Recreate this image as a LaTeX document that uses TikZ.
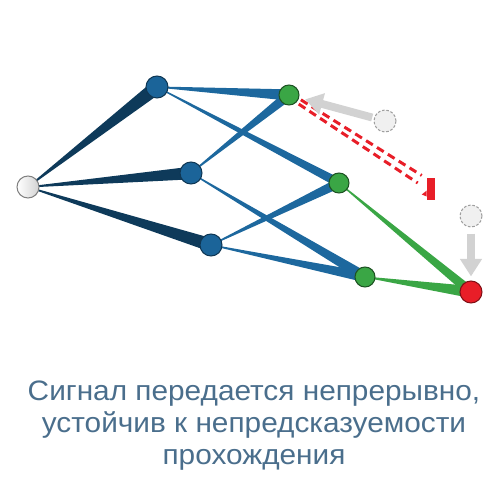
\documentclass[tikz,border=0pt]{standalone}
\usepackage{fontspec}
\setmainfont{Liberation Sans}[FakeStretch=1.06]
\usetikzlibrary{calc,arrows.meta,backgrounds}
\definecolor{navy}{RGB}{14,58,90}
\definecolor{wire}{RGB}{29,104,158}
\definecolor{nodeblue}{RGB}{27,100,153}
\definecolor{leaf}{RGB}{58,166,69}
\definecolor{alarm}{RGB}{232,30,40}
\definecolor{caption}{RGB}{74,110,140}
\begin{document}
\begin{tikzpicture}
[x=0.02cm,y=-0.02cm,
every node/.style={draw,circle,inner sep=0pt,line width=0.6pt},
relay/.style={minimum size=0.44cm,fill=nodeblue,draw=nodeblue!55!black},
sink/.style={minimum size=0.4cm,fill=leaf,draw=leaf!50!black},
ghost/.style={minimum size=0.44cm,fill=gray!12,draw=gray!75,dash pattern=on 1.5pt off 1pt},
ghostarrow/.style={draw=gray!35,line width=4.5pt,-{Triangle[length=10pt,width=12pt]}},
broken/.style={alarm,line width=1.7pt,dash pattern=on 4.5pt off 2.8pt}]
	\useasboundingbox (0,0) rectangle (500,500);
	\node[minimum size=0.44cm,draw=gray,left color=white,right color=gray!35] (src) at (28,187) {};
	\node[relay] (a1) at (157,87) {};
	\node[relay] (a2) at (191,173) {};
	\node[relay] (a3) at (211,245) {};
	\node[sink] (g1) at (289,95) {};
	\node[sink] (g2) at (339,183) {};
	\node[sink] (g3) at (365,277) {};
	\node[minimum size=0.44cm,fill=alarm,draw=alarm!55!black] (rx) at (471,292) {};
	\node[ghost] (gh1) at (385,121) {};
	\node[ghost] (gh2) at (471,216) {};
	\node[rectangle,draw=none,fill=alarm,minimum width=0.15cm,minimum height=0.44cm] (stop) at (431,189) {};
	\fill[alarm] ($(stop.south west)+(0,-10)$) -- ++(-5,4) -- ++(5,2) -- cycle;
	\begin{scope}[on background layer]
		\foreach \s/\t/\w/\c in {src/a1/4pt/navy,src/a2/3.6pt/navy,src/a3/3.8pt/navy,
			a1/g1/3.2pt/wire,a1/g2/2.6pt/wire,a2/g1/2.8pt/wire,a2/g3/3pt/wire,
			a3/g2/2.8pt/wire,a3/g3/3pt/wire,g2/rx/2.8pt/leaf,g3/rx/3.4pt/leaf}
			\fill[\c] ($(\s)!0.3pt!90:(\t)$) -- ($(\t)!\w!-90:(\s)$) -- ($(\t)!\w!90:(\s)$) -- ($(\s)!0.3pt!-90:(\t)$) -- cycle;
		\draw[broken] ($(g1)+(1,-2)$) -- ($(stop.north west)+(-5,-2)$);
		\draw[broken] ($(g1)+(-1,2)$) -- ($(stop.west)+(-9,-6)$);
	\end{scope}
	\draw[ghostarrow,shorten <=1pt,shorten >=3.5pt] (gh1) -- (g1);
	\draw[ghostarrow,shorten <=3.4pt,shorten >=2.3pt] (gh2) -- (rx);
	\node[draw=none,rectangle,align=center,text=caption,font=\fontsize{16}{18.2}\selectfont] (label) at (254,426) {Сигнал передается непрерывно,\\устойчив к непредсказуемости\\прохождения};
\end{tikzpicture}
\end{document}
